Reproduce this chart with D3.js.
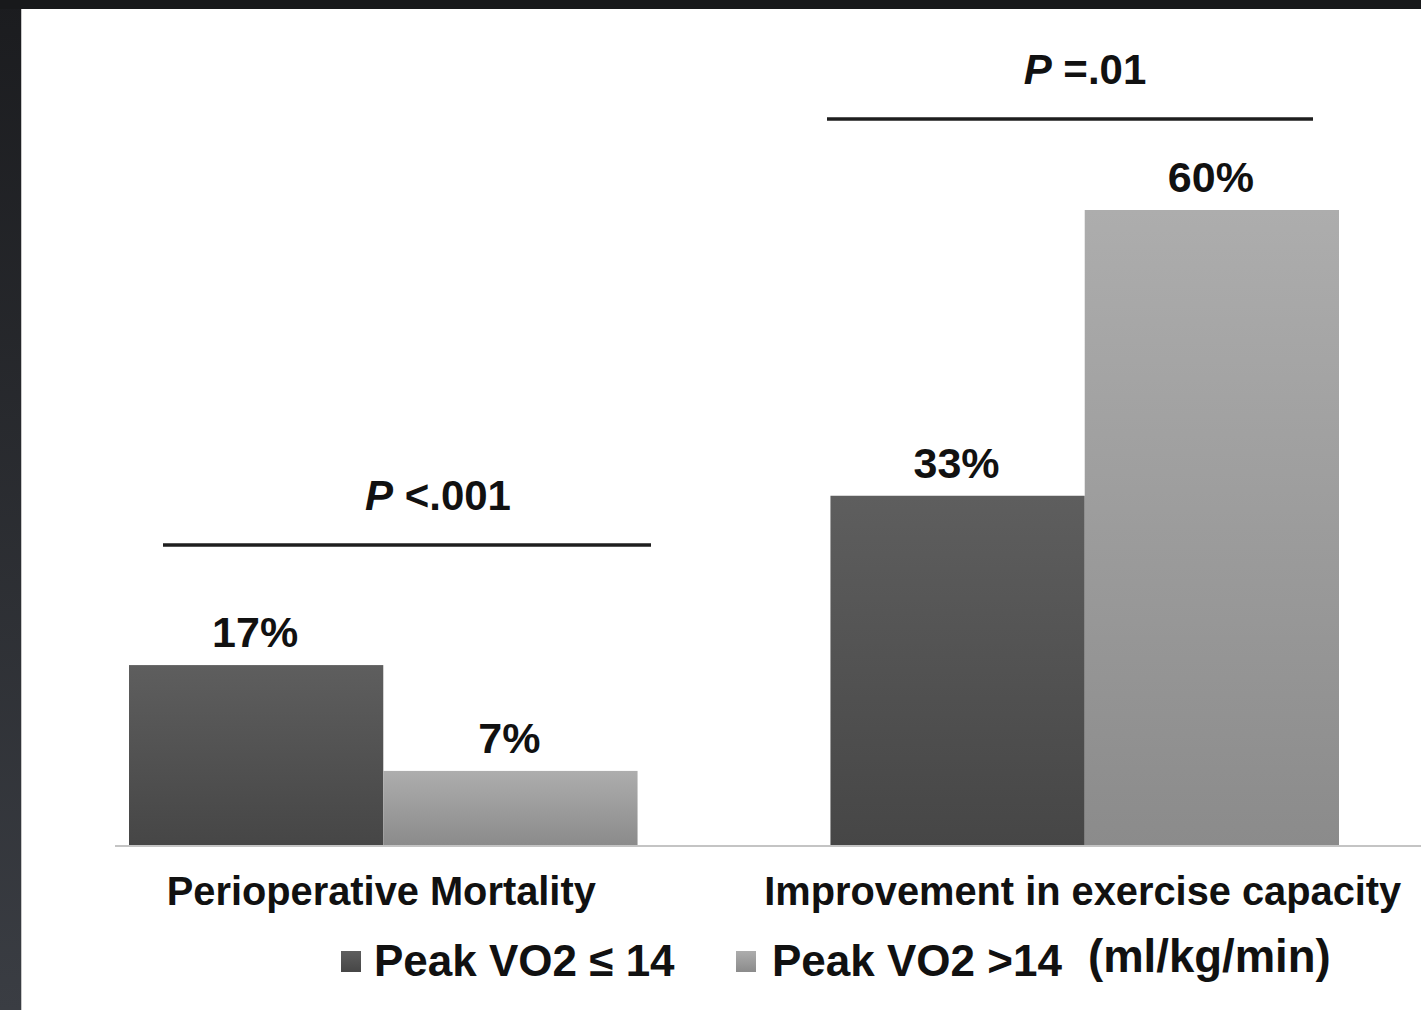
<!DOCTYPE html>
<html>
<head>
<meta charset="utf-8">
<script src="https://cdn.jsdelivr.net/npm/d3@7"></script>
<style>
  html, body { margin: 0; padding: 0; background: #1a1b1e; }
  svg { display: block; }
  text { font-family: "Liberation Sans", Arial, sans-serif; font-weight: bold; fill: #111; }
</style>
</head>
<body>
<svg id="chart" width="1421" height="1010"></svg>
<script>
// Outcome categories and the two peak VO2 groups
const categories = ["Perioperative Mortality", "Improvement in exercise capacity"];
const seriesNames = ["Peak VO2 ≤ 14", "Peak VO2 >14"];
// Percent of patients, per category, in series order
const lowVO2 = [17, 33];
const highVO2 = [7, 60];
// Significance of each comparison
const pPrefix = ["P", "P"];
const pText = [" <.001", " =.01"];
const unitsLabel = "(ml/kg/min)";

const W = 1421, H = 1010;
const svg = d3.select("#chart");

// ---- gradients ----
const defs = svg.append("defs");
function vGrad(id, top, bottom) {
  const g = defs.append("linearGradient").attr("id", id)
    .attr("x1", 0).attr("y1", 0).attr("x2", 0).attr("y2", 1);
  g.append("stop").attr("offset", "0%").attr("stop-color", top);
  g.append("stop").attr("offset", "100%").attr("stop-color", bottom);
}
vGrad("gDark", "#5e5e5e", "#464646");
vGrad("gLight", "#adadad", "#8b8b8b");
vGrad("gFrame", "#1b1c1f", "#3a3d43");
const fills = ["url(#gDark)", "url(#gLight)"];

// ---- dark frame around the white panel ----
svg.append("rect").attr("x", 0).attr("y", 0).attr("width", W).attr("height", H).attr("fill", "url(#gFrame)");
svg.append("rect").attr("x", 0).attr("y", 0).attr("width", W).attr("height", 9).attr("fill", "#18191b");
svg.append("rect").attr("x", 21).attr("y", 9).attr("width", W - 21).attr("height", H - 9).attr("fill", "#ffffff");
svg.append("line").attr("x1", 21.5).attr("x2", 21.5).attr("y1", 9).attr("y2", H)
  .attr("stroke", "#c8c8c8").attr("stroke-width", 1);

// ---- scales ----
const x = d3.scaleBand().domain(categories).range([129, 1339]).paddingInner(0.275).paddingOuter(0);
const xs = d3.scaleBand().domain(seriesNames).range([0, x.bandwidth()]).padding(0);
const y = d3.scaleLinear().domain([0, 60]).range([845, 210]);

const rows = categories.map((c, i) => ({
  cat: c,
  vals: [
    { s: seriesNames[0], v: lowVO2[i], k: 0 },
    { s: seriesNames[1], v: highVO2[i], k: 1 }
  ]
}));

// ---- bars ----
const grp = svg.append("g").selectAll("g").data(rows).join("g")
  .attr("transform", d => `translate(${x(d.cat)},0)`);

grp.selectAll("rect").data(d => d.vals).join("rect")
  .attr("x", d => xs(d.s))
  .attr("y", d => y(d.v))
  .attr("width", xs.bandwidth())
  .attr("height", d => y(0) - y(d.v))
  .attr("fill", d => fills[d.k]);

grp.selectAll("text.val").data(d => d.vals).join("text")
  .attr("class", "val")
  .attr("x", d => xs(d.s) + xs.bandwidth() / 2 - 1)
  .attr("y", d => y(d.v) - 18)
  .attr("text-anchor", "middle")
  .attr("font-size", 43)
  .text(d => d.v + "%");

// ---- baseline ----
svg.append("line").attr("x1", 115).attr("x2", W).attr("y1", y(0) + 1).attr("y2", y(0) + 1)
  .attr("stroke", "#c4c4c4").attr("stroke-width", 2);

// ---- category axis ----
const ax = svg.append("g").attr("transform", `translate(0,${y(0)})`)
  .call(d3.axisBottom(x).tickSize(0).tickPadding(32));
ax.select(".domain").remove();
ax.selectAll("text")
  .attr("font-size", 39.8)
  .attr("dx", -2)
  .attr("font-family", "'Liberation Sans', Arial, sans-serif")
  .attr("font-weight", "bold")
  .attr("fill", "#111");

// ---- significance brackets ----
const brackets = [
  { i: 0, x1: 163, x2: 651, ly: 545, tx: 438, ty: 510 },
  { i: 1, x1: 827, x2: 1313, ly: 119, tx: 1085, ty: 84 }
];
brackets.forEach(b => {
  svg.append("line").attr("x1", b.x1).attr("x2", b.x2).attr("y1", b.ly).attr("y2", b.ly)
    .attr("stroke", "#1e1e1e").attr("stroke-width", 3.5);
  const t = svg.append("text").attr("x", b.tx).attr("y", b.ty)
    .attr("text-anchor", "middle").attr("font-size", 42);
  t.append("tspan").attr("font-style", "italic").text(pPrefix[b.i]);
  t.append("tspan").text(pText[b.i]);
});

// ---- legend ----
const legend = [
  { k: 0, sx: 341, tx: 374 },
  { k: 1, sx: 736, tx: 772 }
];
legend.forEach(l => {
  svg.append("rect").attr("x", l.sx).attr("y", 951).attr("width", 20).attr("height", 21)
    .attr("fill", fills[l.k]);
  svg.append("text").attr("x", l.tx).attr("y", 976).attr("font-size", 44)
    .text(seriesNames[l.k]);
});
svg.append("text").attr("x", 1088).attr("y", 972).attr("font-size", 45.5).text(unitsLabel);
</script>
</body>
</html>
